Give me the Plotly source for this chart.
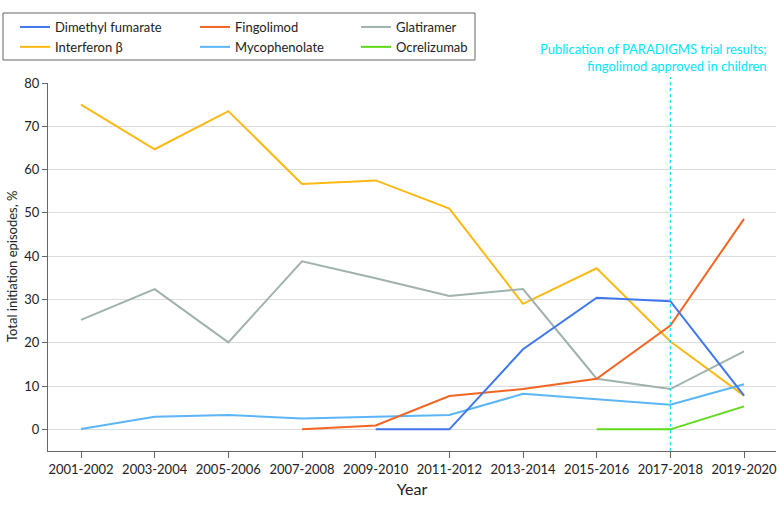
import plotly.graph_objects as go

years = ["2001-2002", "2003-2004", "2005-2006", "2007-2008", "2009-2010",
         "2011-2012", "2013-2014", "2015-2016", "2017-2018", "2019-2020"]

dimethyl_fumarate = [None, None, None, None, 0, 0, 18.5, 30.4, 29.6, 7.8]
fingolimod = [None, None, None, 0, 0.9, 7.7, 9.3, 11.7, 24.0, 48.6]
glatiramer = [25.3, 32.4, 20.1, 38.8, 34.9, 30.8, 32.4, 11.7, 9.3, 18.0]
interferon = [75.0, 64.7, 73.5, 56.7, 57.5, 51.0, 29.0, 37.2, 20.3, 7.8]
mycophenolate = [0.1, 2.9, 3.3, 2.5, 2.9, 3.3, 8.2, 6.9, 5.7, 10.4]
ocrelizumab = [None, None, None, None, None, None, None, 0, 0, 5.3]

series = [
    ("Dimethyl fumarate", dimethyl_fumarate, "#3f77ee", "legend", 1),
    ("Interferon β", interferon, "#fdb913", "legend", 2),
    ("Fingolimod", fingolimod, "#f26522", "legend2", 1),
    ("Mycophenolate", mycophenolate, "#5bb5f7", "legend2", 2),
    ("Glatiramer", glatiramer, "#9fb2ad", "legend3", 1),
    ("Ocrelizumab", ocrelizumab, "#5fd91a", "legend3", 2),
]
draw_order = ["Interferon β", "Glatiramer", "Mycophenolate", "Ocrelizumab",
              "Fingolimod", "Dimethyl fumarate"]

font = "Lato, Roboto, sans-serif"
W, H = 780, 506
L, R, T, B = 48, 4, 83, 55
pw, ph = W - L - R, H - T - B

fig = go.Figure()
x_idx = list(range(len(years)))
lookup = {s[0]: s for s in series}
for name in draw_order:
    _, vals, col, lg, rank = lookup[name]
    fig.add_trace(go.Scatter(x=x_idx, y=vals, name=name, mode="lines",
                             line=dict(color=col, width=2), connectgaps=False,
                             legend=lg, legendrank=rank))

def px_x(p):
    return (p - L) / pw

def px_y(p):
    return (H - B - p) / ph

fig.add_shape(type="rect", xref="paper", yref="paper",
              x0=px_x(3), x1=px_x(475), y0=px_y(60), y1=px_y(13),
              line=dict(color="#666666", width=1), fillcolor="rgba(0,0,0,0)")
fig.add_shape(type="line", xref="x", yref="paper", x0=8, x1=8, y0=0, y1=px_y(77),
              line=dict(color="#00e5ff", width=1.2, dash="dot"))
fig.add_annotation(xref="paper", yref="paper", x=px_x(769), y=px_y(76), xanchor="right",
                   yanchor="bottom", align="right", showarrow=False,
                   text="Publication of PARADIGMS trial results;<br>fingolimod approved in children",
                   font=dict(family=font, size=13, color="#00e5ff"))
fig.add_annotation(xref="paper", yref="paper", x=px_x(12), y=0.5, xanchor="center",
                   yanchor="middle", textangle=-90, showarrow=False,
                   text="Total initiation episodes, %",
                   font=dict(family=font, size=13, color="#222222"))

leg_common = dict(orientation="v", xref="container", yref="container",
                  xanchor="left", yanchor="top", y=1 - 12 / H,
                  bgcolor="rgba(0,0,0,0)", borderwidth=0,
                  font=dict(family=font, size=13, color="#222222"), tracegroupgap=0)

fig.update_layout(
    width=W, height=H,
    margin=dict(l=L, r=R, t=T, b=B, autoexpand=False),
    paper_bgcolor="white", plot_bgcolor="white",
    font=dict(family=font, size=13, color="#222222"),
    showlegend=True,
    legend=dict(x=15 / W, traceorder="normal", **leg_common),
    legend2=dict(x=195 / W, traceorder="normal", **leg_common),
    legend3=dict(x=356 / W, traceorder="normal", **leg_common),
    xaxis=dict(tickmode="array", tickvals=x_idx, ticktext=years,
               range=[-0.448, 9.434], showgrid=False, showline=True,
               linecolor="#666666", linewidth=1, ticks="outside", ticklen=6,
               tickcolor="#666666", title=dict(text="Year", standoff=8),
               tickfont=dict(size=13), zeroline=False),
    yaxis=dict(range=[-5, 80], tickvals=[0, 10, 20, 30, 40, 50, 60, 70, 80],
               showgrid=True, gridcolor="#dddddd", gridwidth=1, showline=True,
               linecolor="#666666", linewidth=1, ticks="outside", ticklen=5,
               tickcolor="#666666", zeroline=False,
               tickfont=dict(size=13)),
)
fig.write_html("out.html", config={"displayModeBar": False},
               post_script="document.body.style.margin='0px';")
